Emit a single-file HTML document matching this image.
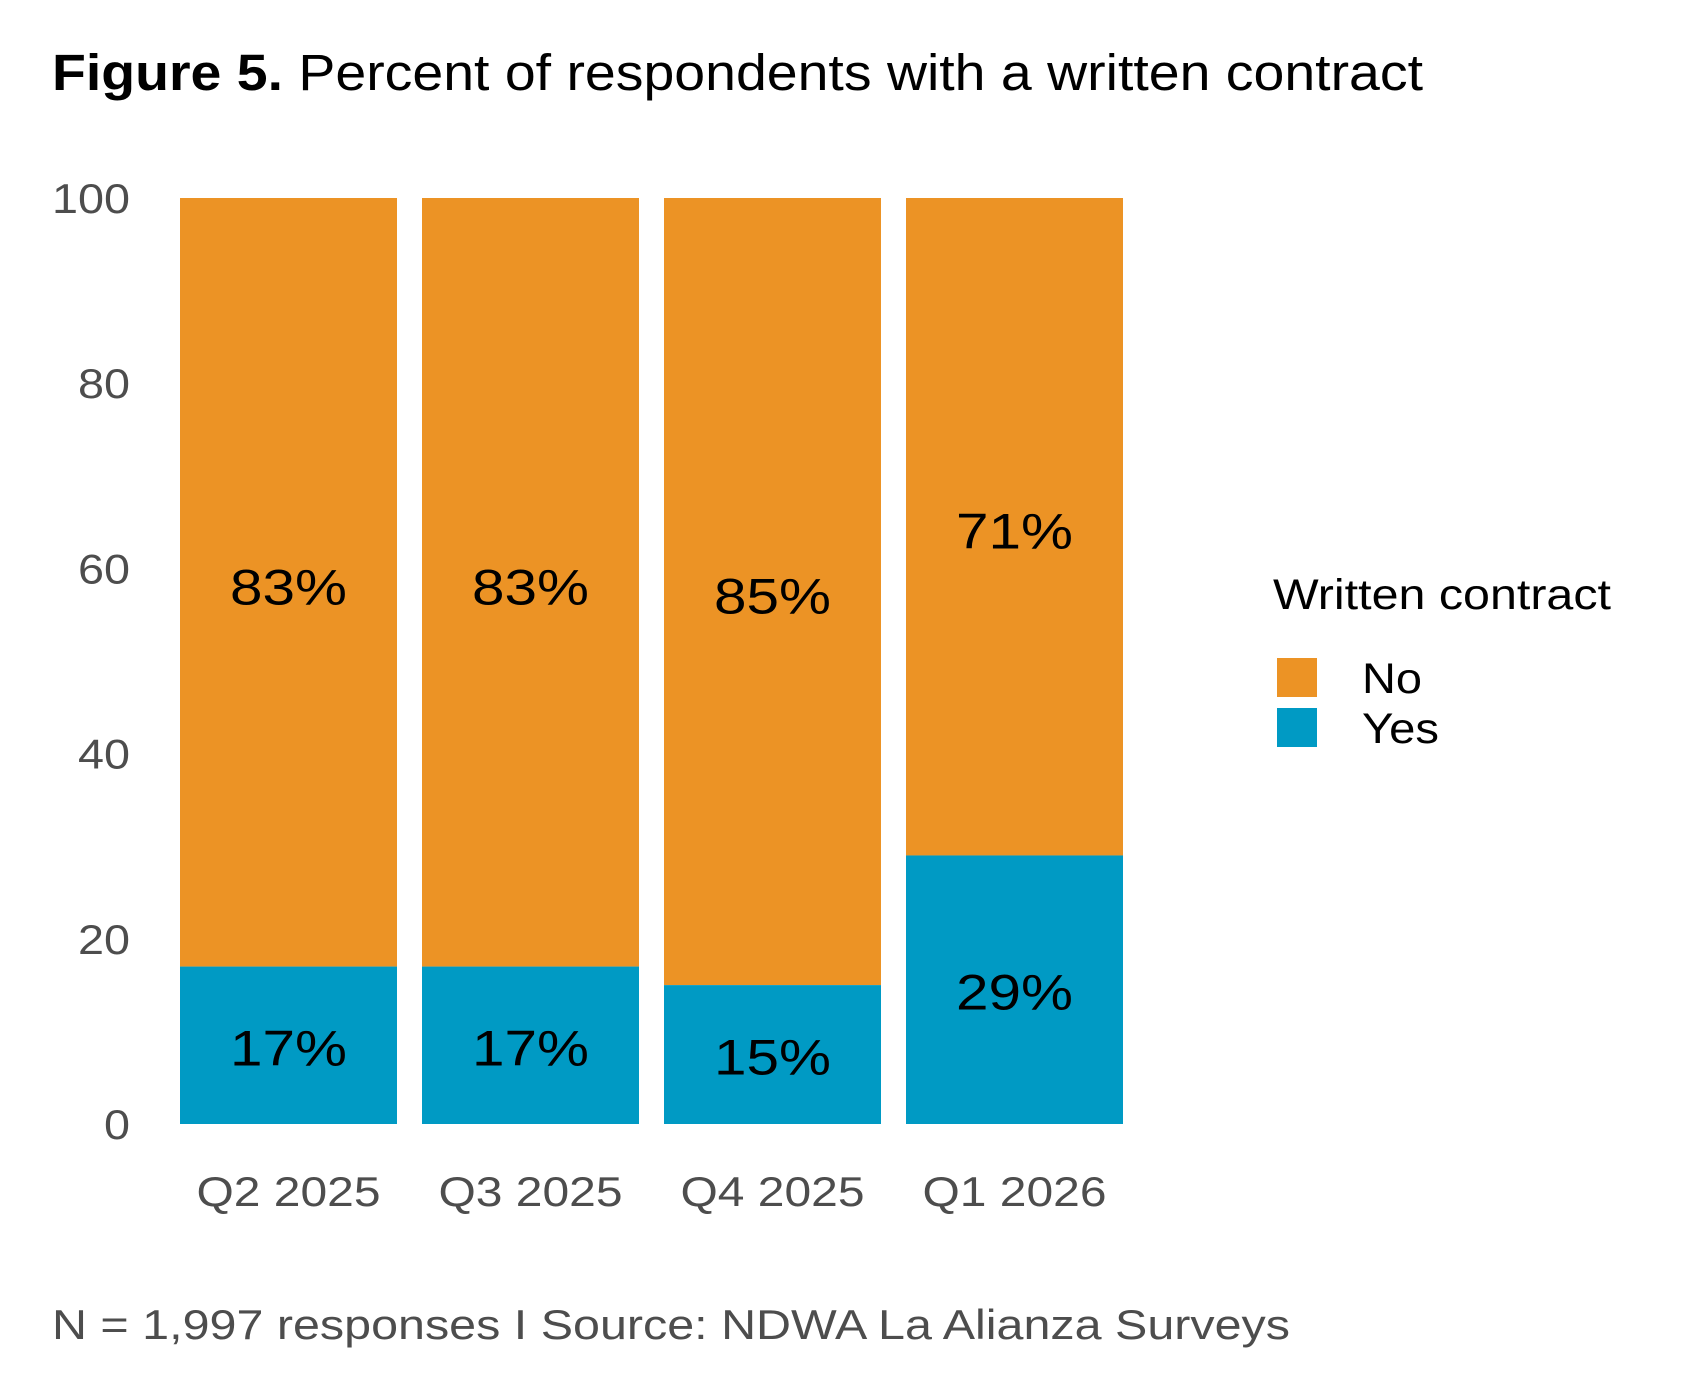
<!DOCTYPE html>
<html><head><meta charset="utf-8"><style>
body{margin:0;background:#fff;}
svg{display:block;font-family:"Liberation Sans",Arial,sans-serif;}
</style></head><body>
<svg id="chart" width="1700" height="1400" viewBox="0 0 1700 1400">
<text x="52" y="90" font-size="51" fill="#000" textLength="1371" lengthAdjust="spacingAndGlyphs"><tspan font-weight="bold">Figure 5.</tspan> Percent of respondents with a written contract</text>
<g id="yaxis"></g>
<g id="bars"></g>
<g id="xaxis"></g>
<g>
<text x="1273" y="609" font-size="43" fill="#000" textLength="338" lengthAdjust="spacingAndGlyphs">Written contract</text>
<rect x="1277" y="658" width="40" height="39" fill="#EC9325"/>
<text x="1362" y="693" font-size="43" fill="#000" textLength="60" lengthAdjust="spacingAndGlyphs">No</text>
<rect x="1277" y="708" width="40" height="39" fill="#009AC4"/>
<text x="1362" y="743" font-size="43" fill="#000" textLength="77" lengthAdjust="spacingAndGlyphs">Yes</text>
</g>
<text x="52" y="1339" font-size="42" fill="#4d4d4d" textLength="1238" lengthAdjust="spacingAndGlyphs">N = 1,997 responses I Source: NDWA La Alianza Surveys</text>
</svg>
<script>
const categories = ["Q2 2025","Q3 2025","Q4 2025","Q1 2026"];
const yesValues = [17,17,15,29];
const noValues = [83,83,85,71];
const yTicks = [0,20,40,60,80,100];

const NS="http://www.w3.org/2000/svg";
const y0=1124, yTop=198, x0=180, step=242, bw=217;
function y(v){return y0-(v/100)*(y0-yTop);}
function xc(i){return x0+i*step+bw/2;}
function mk(tag,attrs,parent){const e=document.createElementNS(NS,tag);for(const k in attrs)e.setAttribute(k,attrs[k]);parent.appendChild(e);return e;}
const ya=document.getElementById('yaxis'),bars=document.getElementById('bars'),xa=document.getElementById('xaxis');
yTicks.forEach(t=>{
  const s=String(t);
  const e=mk('text',{x:130,y:y(t)+15,'font-size':42,fill:'#4d4d4d','text-anchor':'end',textLength:26*s.length,lengthAdjust:'spacingAndGlyphs'},ya);
  e.textContent=s;
  
  
});
categories.forEach((c,i)=>{
  const yes=yesValues[i], no=noValues[i];
  const left=xc(i)-bw/2;
  const rn=mk('rect',{x:left,y:y(yes+no),width:bw,height:y(yes)-y(yes+no),fill:'#EC9325'},bars);
  
  
  const ry=mk('rect',{x:left,y:y(yes),width:bw,height:y(0)-y(yes),fill:'#009AC4'},bars);
  
  
  const tn=mk('text',{x:xc(i),y:y(yes+no/2)+22,'font-size':50,fill:'#000','text-anchor':'middle',textLength:117,lengthAdjust:'spacingAndGlyphs'},bars);
  tn.textContent=no+'%';
  
  
  const ty=mk('text',{x:xc(i),y:y(yes/2)+20,'font-size':50,fill:'#000','text-anchor':'middle',textLength:117,lengthAdjust:'spacingAndGlyphs'},bars);
  ty.textContent=yes+'%';
  
  
  const xl=mk('text',{x:xc(i),y:1206,'font-size':42,fill:'#4d4d4d','text-anchor':'middle',textLength:184,lengthAdjust:'spacingAndGlyphs'},xa);
  xl.textContent=c;
  
  
});
</script>
</body></html>
